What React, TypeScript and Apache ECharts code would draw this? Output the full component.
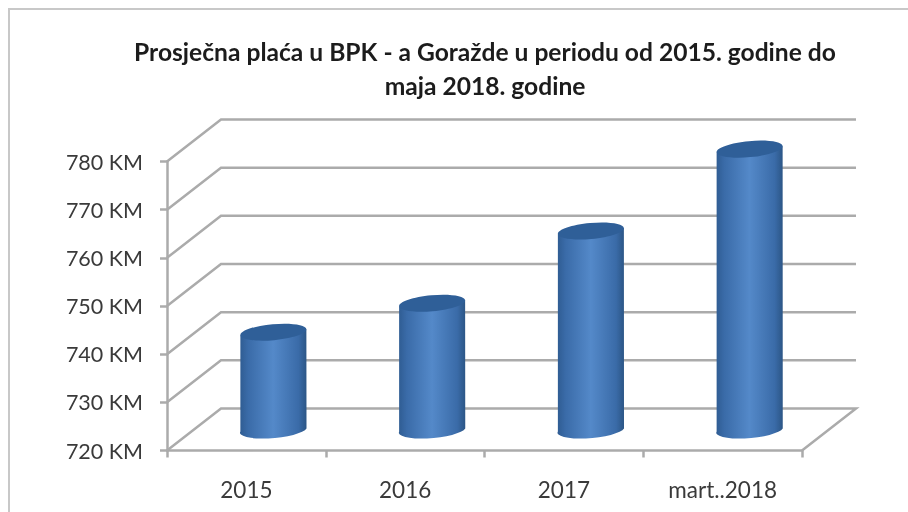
import React, { useEffect, useRef } from "react";
import * as echarts from "echarts";

const titleText = "Prosječna plaća u BPK - a Goražde u periodu od 2015. godine do\nmaja 2018. godine";
const categories = ["2015", "2016", "2017", "mart..2018"];
const salaries = [740, 746, 761, 778];
const wallTicks = [720, 730, 740, 750, 760, 770, 780];

const DEPTH_X = 54;
const DEPTH_Y = 42;
const BAR_RX = 33;
const BAR_RY = 8;
const BAR_TILT = 3;
const LINE_COLOR = "#ababab";
const TEXT_COLOR = "#3a3a3a";
const FONT = "Lato";

export default function App() {
  const ref = useRef<HTMLDivElement>(null);
  useEffect(() => {
    const chart = echarts.init(ref.current!, null, { renderer: "svg" });
    chart.setOption({
      animation: false,
      backgroundColor: "#ffffff",
      title: {
        text: titleText,
        left: 480,
        top: 29,
        textAlign: "center",
        textStyle: { fontFamily: FONT, fontSize: 24.6, fontWeight: "bold", color: "#1c1c1c", lineHeight: 34 },
      },
      graphic: [
        {
          type: "polyline",
          shape: { points: [[9, 512], [9, 9], [908, 9]] },
          style: { stroke: "#c8c8c8", lineWidth: 2, fill: "none" },
          silent: true,
        },
      ],
      grid: { left: 167, right: 106, top: 161.5, bottom: 61.5 },
      xAxis: {
        type: "category",
        data: categories,
        axisLine: { lineStyle: { color: LINE_COLOR, width: 2.5 } },
        axisTick: { show: true, alignWithLabel: false, length: 7, lineStyle: { color: LINE_COLOR, width: 2.5 } },
        axisLabel: { fontFamily: FONT, fontSize: 22.5, color: TEXT_COLOR, margin: 27, interval: 0 },
        splitLine: { show: false },
      },
      yAxis: {
        type: "value",
        min: 720,
        max: 780,
        interval: 10,
        axisLine: { show: true, lineStyle: { color: LINE_COLOR, width: 2.5 } },
        axisTick: { show: true, length: 7, lineStyle: { color: LINE_COLOR, width: 2.5 } },
        axisLabel: { fontFamily: FONT, fontSize: 21.5, color: TEXT_COLOR, margin: 24, formatter: "{value} KM" },
        splitLine: { show: false },
      },
      series: [
        {
          type: "custom",
          coordinateSystem: "cartesian2d",
          z: 1,
          silent: true,
          data: wallTicks.map((v) => [0, v]),
          renderItem: (params: any, api: any) => {
            const y = api.coord([0, api.value(1)])[1];
            const left = params.coordSys.x;
            const right = left + params.coordSys.width;
            const pts = [
              [left, y],
              [left + DEPTH_X, y - DEPTH_Y],
              [right + DEPTH_X, y - DEPTH_Y],
            ];
            if (params.dataIndex === 0) pts.push([right, y]);
            return {
              type: "polyline",
              shape: { points: pts },
              style: { stroke: LINE_COLOR, lineWidth: 2.5, fill: "none" },
            };
          },
        },
        {
          type: "custom",
          coordinateSystem: "cartesian2d",
          z: 2,
          silent: true,
          data: salaries.map((v, i) => [i, v]),
          encode: { x: 0, y: 1 },
          renderItem: (params: any, api: any) => {
            const top = api.coord([api.value(0), api.value(1)]);
            const base = api.coord([api.value(0), 720]);
            const cx = top[0] + DEPTH_X / 2;
            const yt = top[1] - DEPTH_Y / 2 - 1;
            const yb = base[1] - DEPTH_Y / 2 - 1;
            const lx = cx - BAR_RX;
            const rx = cx + BAR_RX;
            const major = Math.hypot(BAR_RX, BAR_TILT);
            const tilt = Math.atan2(BAR_TILT, BAR_RX);
            const arc = `${major} ${BAR_RY} ${(-tilt * 180) / Math.PI}`;
            const body =
              `M${lx} ${yt + BAR_TILT}L${lx} ${yb + BAR_TILT}` +
              `A${arc} 0 0 ${rx} ${yb - BAR_TILT}L${rx} ${yt - BAR_TILT}Z`;
            return {
              type: "group",
              children: [
                {
                  type: "path",
                  shape: { pathData: body },
                  style: {
                    fill: new echarts.graphic.LinearGradient(0, 0, 1, 0, [
                      { offset: 0, color: "#2f5c92" },
                      { offset: 0.12, color: "#3a6ba8" },
                      { offset: 0.5, color: "#5489c9" },
                      { offset: 0.88, color: "#3a6ba8" },
                      { offset: 1, color: "#2c5686" },
                    ]),
                  },
                },
                {
                  type: "ellipse",
                  x: cx,
                  y: yt,
                  rotation: tilt,
                  shape: { cx: 0, cy: 0, rx: major, ry: BAR_RY },
                  style: { fill: "#2f5f98" },
                },
              ],
            };
          },
        },
      ],
    });
    return () => chart.dispose();
  }, []);
  return (
    <div
      ref={ref}
      style={{ position: "fixed", left: 0, top: 0, width: 908, height: 512, filter: "blur(0.5px)" }}
    />
  );
}
